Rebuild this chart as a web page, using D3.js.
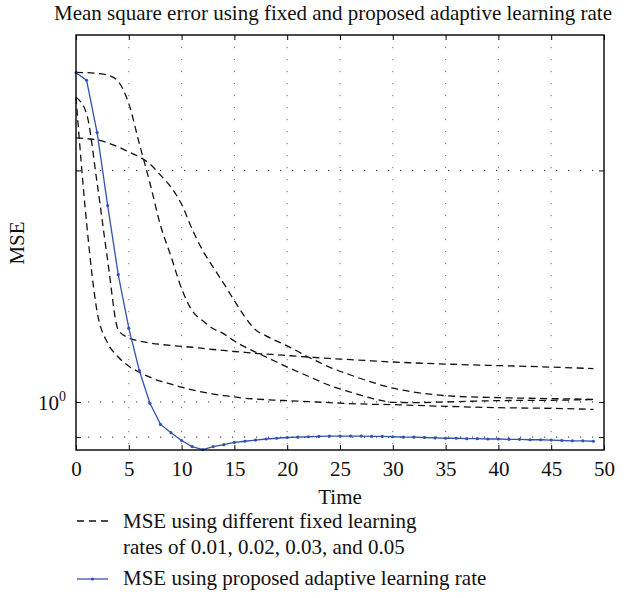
<!DOCTYPE html>
<html>
<head>
<meta charset="utf-8">
<script src="https://cdn.jsdelivr.net/npm/d3@7"></script>
<style>
  body { margin: 0; background: #fff; }
  text { font-family: "Liberation Serif", "DejaVu Serif", serif; fill: #111; }
</style>
</head>
<body>
<div class="mse-plot"></div>
<script>

// --- data ---
const chartTitle = "Mean square error using fixed and proposed adaptive learning rate"
const xTicks = [0, 5, 10, 15, 20, 25, 30, 35, 40, 45, 50]
const yGrid = [0.9, 1, 2]

// sample times shared by the four fixed-rate curves
const fixedTimes = [0,1,2,3,4,5,6,7,8,9,10,11,12,13,14,15,16,17,18,19,20,22,24,26,28,30,32,35,40,45,49]

const mseRate05 = [2.49,1.71,1.31,1.193,1.144,1.113,1.093,1.077,1.064,1.055,1.045,1.037,1.030,1.024,1.019,1.015,1.011,1.009,1.007,1.005,1.004,1.001,0.998,0.995,0.993,0.992,0.990,0.987,0.983,0.981,0.978]
const mseRate03 = [2.49,2.37,1.926,1.527,1.241,1.211,1.200,1.193,1.188,1.184,1.181,1.178,1.174,1.170,1.167,1.163,1.160,1.157,1.154,1.152,1.149,1.144,1.139,1.135,1.131,1.127,1.124,1.120,1.115,1.110,1.105]
const mseRate02 = [2.682,2.68,2.674,2.661,2.61,2.443,2.166,1.926,1.697,1.546,1.404,1.314,1.275,1.245,1.226,1.200,1.179,1.161,1.144,1.127,1.110,1.080,1.051,1.030,1.011,0.999,0.998,1.000,1.004,1.005,1.007]
const mseRate01 = [2.205,2.199,2.192,2.172,2.146,2.114,2.083,2.039,1.972,1.902,1.807,1.677,1.574,1.496,1.425,1.354,1.290,1.241,1.219,1.200,1.183,1.144,1.110,1.084,1.061,1.042,1.030,1.019,1.013,1.010,1.008]

// adaptive rate, one marker per time step 0..49
const adaptiveTimes = d3.range(0, 50)
const mseAdaptive = [2.68,2.62,2.24,1.80,1.464,1.247,1.098,0.996,0.935,0.912,0.891,0.875,0.867,0.875,0.880,0.886,0.889,0.892,0.895,0.897,0.899,0.900,0.901,0.902,0.903,0.903,0.903,0.903,0.902,0.902,0.901,0.900,0.900,0.899,0.898,0.897,0.897,0.896,0.896,0.895,0.895,0.894,0.894,0.893,0.893,0.892,0.891,0.890,0.890,0.889]

const legendFixed = ["MSE using different fixed learning", "rates of 0.01, 0.02, 0.03, and 0.05"]
const legendAdaptive = "MSE using proposed adaptive learning rate"

// --- layout ---
var fs = 21
var margin = {top: 35, right: 20, bottom: 148, left: 76},
    width = 604 - margin.left,
    height = 450 - margin.top;

var svg = d3.select(".mse-plot")
  .append("svg")
  .attr("width", 624)
  .attr("height", 598)

var g = svg.append("g")
  .attr("transform", "translate(" + margin.left + "," + margin.top + ")")

var x = d3.scaleLinear().domain([0, 50]).range([0, width])
var y = d3.scaleLog().domain([0.866, 3.0]).range([height, 0])

// dotted grid
g.selectAll(".vgrid")
  .data(xTicks.slice(1, -1))
  .enter()
  .append("line")
    .attr("x1", d => x(d)).attr("x2", d => x(d))
    .attr("y1", 0).attr("y2", height)
    .attr("stroke", "#777")
    .attr("stroke-width", 1)
    .attr("stroke-dasharray", "1.2,10.8")

g.selectAll(".hgrid")
  .data(yGrid)
  .enter()
  .append("line")
    .attr("x1", 0).attr("x2", width)
    .attr("y1", d => y(d)).attr("y2", d => y(d))
    .attr("stroke", "#222")
    .attr("stroke-width", 1)
    .attr("stroke-dasharray", "1.2,10.8")

// fixed learning rate curves (dashed)
var line = d3.line()
  .x(d => x(d[0]))
  .y(d => y(d[1]))
  .curve(d3.curveMonotoneX)

var fixedSeries = [mseRate05, mseRate03, mseRate02, mseRate01]
fixedSeries.forEach(function(vals) {
  g.append("path")
    .datum(fixedTimes.map((t, i) => [t, vals[i]]))
    .attr("d", line)
    .attr("fill", "none")
    .attr("stroke", "#111")
    .attr("stroke-width", 1.3)
    .attr("stroke-dasharray", "7,4.5")
})

// adaptive curve with small dot markers
var adaptiveData = adaptiveTimes.map((t, i) => [t, mseAdaptive[i]])
var blue = "#3353ad"
g.append("path")
  .datum(adaptiveData)
  .attr("d", d3.line().x(d => x(d[0])).y(d => y(d[1])))
  .attr("fill", "none")
  .attr("stroke", blue)
  .attr("stroke-width", 1.3)

g.selectAll(".pt")
  .data(adaptiveData)
  .enter()
  .append("circle")
    .attr("cx", d => x(d[0]))
    .attr("cy", d => y(d[1]))
    .attr("r", 1.6)
    .attr("fill", blue)

// axes: bottom/top with inward ticks, left/right log ticks
g.append("g")
  .attr("transform", "translate(0," + height + ")")
  .call(d3.axisBottom(x).tickValues(xTicks).tickSizeInner(-5).tickSizeOuter(0).tickPadding(11))
  .call(a => a.select(".domain").remove())
  .call(a => a.selectAll("text").attr("font-size", fs).attr("fill", "#111").style("font-family", "Liberation Serif"))

g.append("g")
  .call(d3.axisTop(x).tickValues(xTicks).tickSizeInner(-5).tickSizeOuter(0).tickFormat(""))
  .call(a => a.select(".domain").remove())

g.append("g")
  .call(d3.axisLeft(y).tickValues(yGrid).tickSizeInner(-5).tickSizeOuter(0).tickFormat(""))
  .call(a => a.select(".domain").remove())

g.append("g")
  .attr("transform", "translate(" + width + ",0)")
  .call(d3.axisRight(y).tickValues(yGrid).tickSizeInner(-5).tickSizeOuter(0).tickFormat(""))
  .call(a => a.select(".domain").remove())

// box
g.append("rect")
  .attr("width", width).attr("height", height)
  .attr("fill", "none")
  .attr("stroke", "#111")
  .attr("stroke-width", 1.5)

// 10^0 label
var lab = g.append("text")
  .attr("x", -10)
  .attr("y", y(1) + 8.5)
  .attr("text-anchor", "end")
  .attr("font-size", fs)
lab.append("tspan").text("10")
lab.append("tspan").attr("dy", -9).attr("font-size", 14).text("0")

// titles
svg.append("text")
  .attr("x", 333).attr("y", 20)
  .attr("text-anchor", "middle")
  .attr("font-size", fs)
  .text(chartTitle)

svg.append("text")
  .attr("x", 340).attr("y", 504)
  .attr("text-anchor", "middle")
  .attr("font-size", fs)
  .text("Time")

svg.append("text")
  .attr("transform", "translate(24,243) rotate(-90)")
  .attr("text-anchor", "middle")
  .attr("font-size", fs)
  .text("MSE")

// legend
var leg = svg.append("g")
leg.append("line")
  .attr("x1", 77).attr("x2", 108).attr("y1", 521).attr("y2", 521)
  .attr("stroke", "#111").attr("stroke-width", 1.3)
  .attr("stroke-dasharray", "7,5")
leg.selectAll(".lf")
  .data(legendFixed)
  .enter()
  .append("text")
    .attr("x", 123)
    .attr("y", (d, i) => 528 + i * 26)
    .attr("font-size", fs)
    .text(d => d)

leg.append("line")
  .attr("x1", 77).attr("x2", 108).attr("y1", 579).attr("y2", 579)
  .attr("stroke", blue).attr("stroke-width", 1.3)
leg.append("circle")
  .attr("cx", 92.5).attr("cy", 579).attr("r", 1.6).attr("fill", blue)
leg.append("text")
  .attr("x", 123).attr("y", 585)
  .attr("font-size", fs)
  .text(legendAdaptive)

</script>
</body>
</html>
